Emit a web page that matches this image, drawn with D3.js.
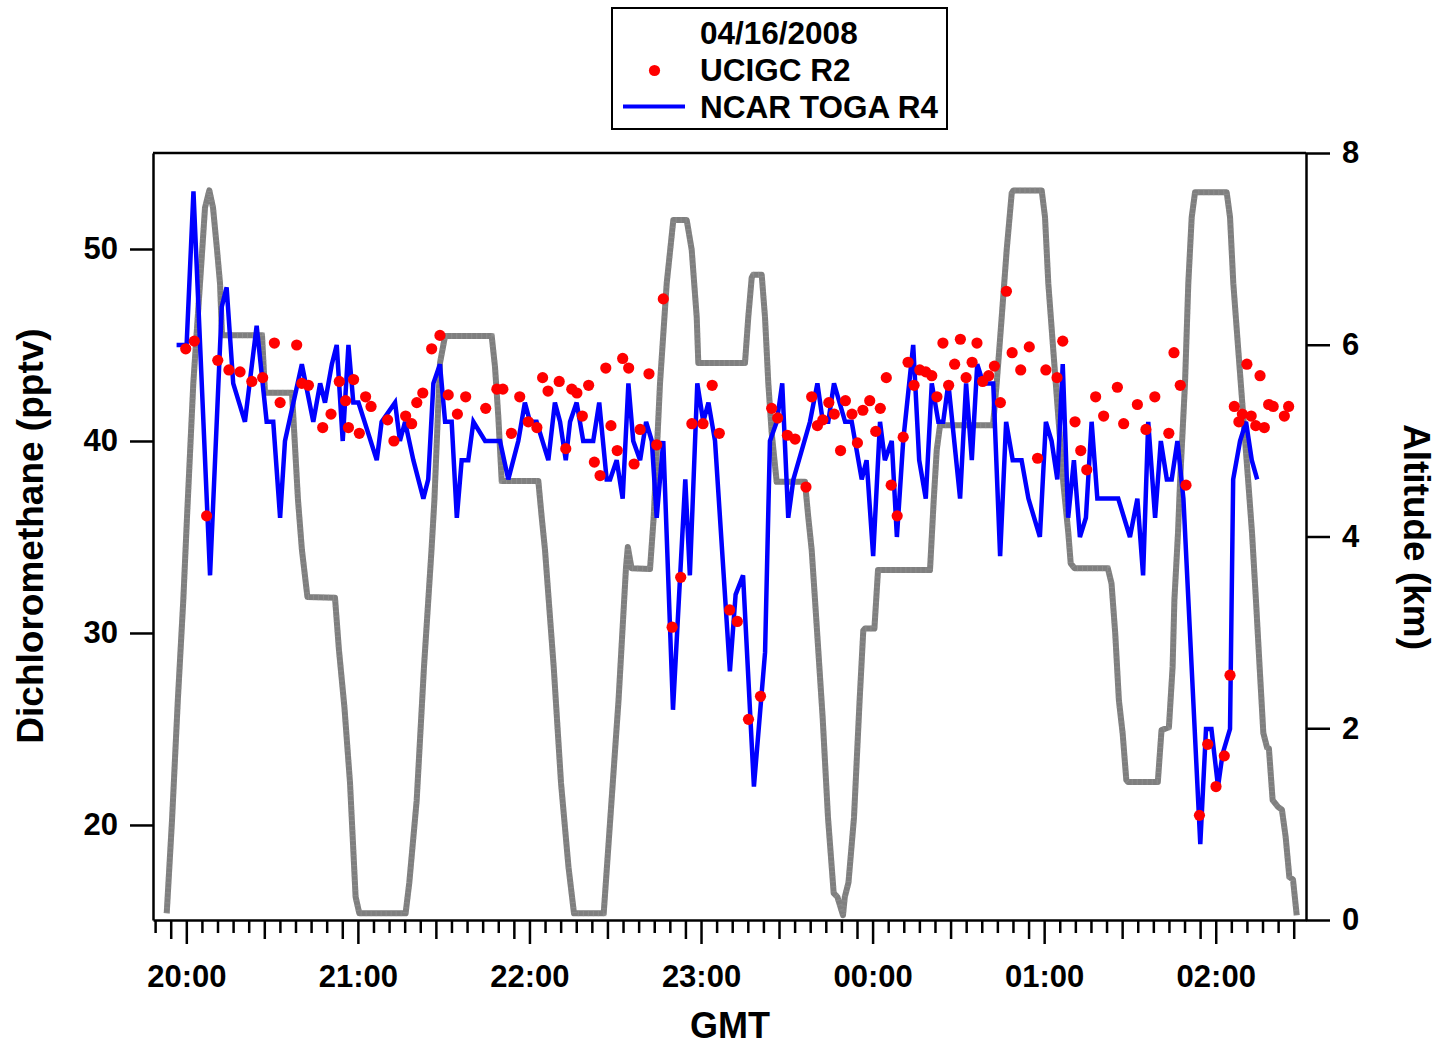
<!DOCTYPE html>
<html><head><meta charset="utf-8">
<script src="https://cdn.jsdelivr.net/npm/d3@7"></script>
<style>
body{margin:0;background:#fff;}
svg{display:block;font-family:"Liberation Sans",Arial,Helvetica,sans-serif;font-weight:bold;}
</style></head><body>
<svg id="chart" width="1441" height="1045"></svg>
<script>
// Times are minutes after 20:00 GMT, 04/16/2008
const togaMinutes = [-3.4,0.1,2.5,8.3,12.4,14.1,16.4,20.5,24.6,28.1,
 30.4,32.8,34.5,40.4,44.4,46.8,48.5,50.9,52.6,54.7,
 56.7,58.4,60.2,66.6,68.3,73.0,74.7,76.5,79.4,82.9,
 84.6,86.4,88.7,90.5,92.8,94.6,96.3,98.6,100.4,104.5,
 109.7,112.6,116.1,118.4,120.2,122.5,126.6,128.9,130.7,132.7,
 134.2,136.5,138.8,142.3,144.4,147.0,148.2,150.5,152.6,154.6,
 156.3,158.7,160.8,162.8,164.5,166.8,170.2,174.5,176.1,178.7,
 180.8,182.6,184.9,190.1,192.1,194.7,198.5,202.4,204.1,206.5,
 208.4,210.5,212.3,218.1,220.7,222.6,224.5,226.5,230.4,232.7,
 236.2,237.9,240.2,242.6,244.3,246.7,248.5,250.7,254.2,256.3,
 258.6,260.7,263.0,264.7,266.5,270.6,272.7,274.7,276.6,278.7,
 282.2,284.6,286.7,289.0,292.1,294.5,298.5,300.6,302.6,304.6,
 306.5,308.4,310.4,312.5,314.6,316.6,318.6,325.9,330.0,332.6,
 334.6,336.4,338.8,340.8,342.9,344.6,346.6,348.7,354.6,356.6,
 358.5,360.8,362.4,365.0,366.1,368.5,370.6,372.6,374.5];
const togaValues = [45,45,53,33,47,48,43,41,46,41,
 41,36,40,44,41,43,42,44,45,40,
 45,42,42,39,41,42,40,41,39,37,
 38,43,44,41,41,36,39,39,41,40,
 40,38,40,42,41,41,39,42,41,39,
 41,42,40,40,42,38,38,39,37,43,
 40,39,41,40,36,40,26,38,33,43,
 41,42,40,28,32,33,22,29,40,41,
 43,36,38,41,43,41,41,43,41,41,
 38,39,34,41,39,40,35,40,45,39,
 37,43,41,41,43,37,43,39,44,43,
 43,34,41,39,39,37,35,41,40,38,
 44,36,39,35,36,41,37,37,35,37,
 33,41,36,40,38,38,40,37,19,25,
 25,22,23.7,25,38,40,41,39,38];

const ucigcMinutes = [-0.2,2.8,7.1,11.0,14.9,18.8,22.9,26.7,30.8,32.8,
 38.6,40.4,42.7,47.7,50.6,53.5,55.7,56.7,58.5,60.5,
 62.7,64.6,70.4,72.6,76.7,78.8,80.6,82.7,85.8,88.7,91.6,
 94.8,97.7,104.7,108.6,110.7,113.7,116.6,119.6,122.6,124.6,126.5,
 130.4,132.7,134.8,136.6,138.5,140.7,142.7,144.7,146.7,148.5,
 150.7,152.6,154.7,156.6,158.7,161.8,164.5,166.8,169.9,172.9,
 176.8,180.7,183.9,186.4,190.0,192.7,196.6,200.8,
 204.7,206.8,210.2,212.9,216.7,218.7,220.7,222.6,224.7,226.6,
 228.8,230.5,232.8,234.7,236.6,239.0,241.1,242.7,244.8,246.5,
 248.6,250.7,252.4,254.5,256.5,258.6,260.7,262.5,264.6,266.6,
 268.7,270.7,272.7,274.8,276.5,278.5,280.6,282.6,284.7,286.8,
 288.8,291.8,294.8,
 297.7,300.6,304.5,306.5,310.8,312.8,314.9,318.0,320.8,325.6,
 327.8,332.6,335.6,338.7,343.6,345.4,347.6,349.6,354.3,357.2,
 360.1,363.0,365.0,366.5,368.1,369.3,370.9,372.4,374.0,375.5,
 377.0,378.5,380.1,384.0,385.5];
const ucigcValues = [44.8,45.2,36.1,44.2,43.7,43.6,43.1,43.3,45.1,42.0,
 45.0,43.0,42.9,40.7,41.4,43.1,42.1,40.7,43.2,40.4,
 42.3,41.8,41.1,40.0,41.3,40.9,42.0,42.5,44.8,45.5,42.4,
 41.4,42.3,41.7,42.7,42.7,40.4,42.3,41.0,40.7,43.3,42.6,
 43.1,39.6,42.7,42.5,41.3,42.9,38.9,38.2,43.8,40.8,
 39.5,44.3,43.8,38.8,40.6,43.5,39.8,47.4,30.3,32.9,
 40.9,40.9,42.9,40.4,31.2,30.6,25.5,26.7,
 41.7,41.2,40.3,40.1,37.6,42.3,40.8,41.1,42.0,41.4,
 39.5,42.1,41.4,39.9,41.6,42.1,40.5,41.7,43.3,37.7,
 36.1,40.2,44.1,42.9,43.7,43.6,43.4,42.3,45.1,42.9,
 44.0,45.3,43.3,44.1,45.1,43.1,43.4,43.9,42.0,47.8,
 44.6,43.7,44.9,
 39.1,43.7,43.3,45.2,41.0,39.5,38.5,42.3,41.3,42.8,
 40.9,41.9,40.6,42.3,40.4,44.6,42.9,37.7,20.5,24.2,
 22.0,23.6,27.8,41.8,41.0,41.4,44.0,41.3,40.8,43.4,
 40.7,41.9,41.8,41.3,41.8];

const altMinutes = [-6.85,-5.0,-2.97,-1.05,0.24,2.45,4.79,6.54,8.04,9.34,
 10.74,11.79,12.48,26.47,27.52,36.96,39.06,40.43,42.35,52.0,
 53.37,55.29,57.25,59.21,60.5,76.69,77.98,80.57,83.12,85.75,
 86.76,88.72,90.47,106.8,107.95,109.11,110.3,123.1,124.29,125.44,
 128.48,131.04,133.66,135.58,145.97,147.93,151.15,153.77,154.4,155.69,
 162.16,163.45,165.66,168.0,170.31,174.99,176.74,178.49,179.05,195.38,
 196.53,197.72,198.28,201.22,202.37,203.53,204.72,206.46,216.36,217.51,
 218.7,219.86,222.52,224.4,226.4,227.69,229.65,230.28,231.57,233.5,
 235.46,236.75,237.35,240.64,241.9,260.08,261.38,262.43,263.58,282.11,
 283.41,285.16,286.9,288.65,289.21,299.14,300.3,301.45,303.2,304.95,
 306.7,308.44,309.28,310.58,322.26,323.56,324.85,326.14,327.44,328.73,
 329.33,339.75,341.04,343.63,344.92,345.55,346.81,347.51,349.26,350.41,
 351.6,352.76,363.84,365.0,366.15,367.9,369.65,371.4,372.69,374.06,
 375.35,376.65,377.94,378.6,379.9,381.78,383.15,384.44,385.74,387.03,388.32];
const altKm = [0.07,1.04,2.29,3.34,4.2,5.6,6.64,7.43,7.61,7.43,
 6.99,6.64,6.1,6.1,5.5,5.5,4.38,3.86,3.37,3.36,
 2.82,2.22,1.43,0.24,0.07,0.07,0.39,1.25,2.64,3.86,
 4.38,5.81,6.09,6.09,5.77,5.25,4.58,4.58,4.2,3.86,
 2.64,1.43,0.55,0.07,0.07,0.91,2.29,3.68,3.89,3.67,
 3.66,4.2,5.6,6.64,7.3,7.3,6.99,6.29,5.81,5.81,
 6.29,6.7,6.73,6.73,6.29,5.6,5.08,4.57,4.57,4.2,
 3.86,3.34,2.12,1.07,0.28,0.24,0.05,0.24,0.39,1.07,
 2.29,3.02,3.04,3.04,3.65,3.65,4.38,4.9,5.16,5.16,
 5.6,6.29,6.99,7.58,7.61,7.61,7.33,6.64,5.94,5.25,
 4.56,4.04,3.72,3.67,3.67,3.51,2.99,2.29,1.95,1.46,
 1.44,1.44,1.98,2.01,2.64,3.34,4.04,4.56,5.6,6.64,
 7.33,7.59,7.59,7.33,6.64,5.94,5.25,4.56,4.04,3.34,
 2.64,1.95,1.8,1.79,1.25,1.18,1.15,0.87,0.45,0.42,0.05];

const hourLabels = ["20:00","21:00","22:00","23:00","00:00","01:00","02:00"];
const leftTicks = [20,30,40,50];
const rightTicks = [0,2,4,6,8];
const legendTitle = "04/16/2008";
const seriesNames = ["UCIGC R2","NCAR TOGA R4"];
const xTitle = "GMT", yLeftTitle = "Dichloromethane (pptv)", yRightTitle = "Altitude (km)";

const plot = {left:153, right:1306, top:153, bottom:920};
const t0 = Date.UTC(2008,3,16,20,0,0);
const toDate = m => new Date(t0 + m*60000);
const minStart = -11.65, minEnd = 391.57;

const x = d3.scaleUtc().domain([toDate(minStart), toDate(minEnd)]).range([plot.left, plot.right]);
const yL = d3.scaleLinear().domain([15.05,55]).range([plot.bottom, plot.top]);
const yR = d3.scaleLinear().domain([0,8]).range([plot.bottom, plot.top]);

const svg = d3.select("#chart");
const ink = "#000";

// data
const alt = altMinutes.map((m,i)=>({t:toDate(m), v:altKm[i]}));
const toga = togaMinutes.map((m,i)=>({t:toDate(m), v:togaValues[i]}));
const ucigc = ucigcMinutes.map((m,i)=>({t:toDate(m), v:ucigcValues[i]}));

const gData = svg.append("g");
gData.append("path").datum(alt)
  .attr("fill","none").attr("stroke","#7f7f7f").attr("stroke-width",6)
  .attr("stroke-linejoin","round")
  .attr("d", d3.line().x(d=>x(d.t)).y(d=>yR(d.v)));
gData.append("path").datum(alt)
  .attr("fill","none").attr("stroke","#9a9a9a").attr("stroke-width",6)
  .attr("stroke-dasharray","1 4").attr("stroke-opacity",0.5)
  .attr("d", d3.line().x(d=>x(d.t)).y(d=>yR(d.v)));
gData.append("path").datum(toga)
  .attr("fill","none").attr("stroke","#0000ff").attr("stroke-width",4.5)
  .attr("stroke-linejoin","miter").attr("stroke-miterlimit",4)
  .attr("d", d3.line().x(d=>x(d.t)).y(d=>yL(d.v)));
gData.selectAll("circle.u").data(ucigc).join("circle")
  .attr("class","u").attr("cx",d=>x(d.t)).attr("cy",d=>yL(d.v))
  .attr("r",5.6).attr("fill","#ff0000");

// x axis ticks
const midTicks = [], minorTicks = [];
for (let h=-1; h<7; h++) for (let k=1; k<=10; k++) {
  const m = h*60 + k*60/11;
  if (m >= minStart && m <= minEnd) (k%5===0 ? midTicks : minorTicks).push(toDate(m));
}
const majorTicks = hourLabels.map((_,i)=>toDate(i*60));

function styleAxis(g){
  g.selectAll("path.domain").attr("stroke",ink).attr("stroke-width",2.5);
  g.selectAll(".tick line").attr("stroke",ink).attr("stroke-width",2.5);
  g.selectAll("text").attr("fill",ink).attr("font-family","'Liberation Sans',Arial,sans-serif")
   .attr("font-weight","bold").attr("font-size",31);
}
const xg = svg.append("g").attr("transform",`translate(0,${plot.bottom})`);
xg.append("g").call(d3.axisBottom(x).tickValues(minorTicks).tickSize(13).tickSizeOuter(0).tickFormat(""))
  .call(styleAxis);
xg.append("g").call(d3.axisBottom(x).tickValues(midTicks).tickSize(19).tickSizeOuter(0).tickFormat(""))
  .call(g=>g.select(".domain").remove()).call(styleAxis);
xg.append("g").call(d3.axisBottom(x).tickValues(majorTicks).tickSize(24).tickSizeOuter(0)
    .tickFormat((d,i)=>hourLabels[i]))
  .call(g=>g.select(".domain").remove()).call(styleAxis)
  .call(g=>g.selectAll("text").attr("dy",null).attr("y",67));

// left axis
svg.append("g").attr("transform",`translate(${plot.left},0)`)
  .call(d3.axisLeft(yL).tickValues(leftTicks).tickSize(23).tickSizeOuter(0).tickPadding(12))
  .call(styleAxis);
// right axis
svg.append("g").attr("transform",`translate(${plot.right},0)`)
  .call(d3.axisRight(yR).tickValues(rightTicks).tickSize(24).tickSizeOuter(0).tickPadding(12))
  .call(styleAxis);
// top frame
svg.append("line").attr("x1",plot.left).attr("x2",plot.right).attr("y1",plot.top).attr("y2",plot.top)
  .attr("stroke",ink).attr("stroke-width",2.5);

// titles
svg.append("text").attr("x",730).attr("y",1038)
  .attr("text-anchor","middle").attr("font-size",36).text(xTitle);
svg.append("text").attr("transform","translate(43,536) rotate(-90)")
  .attr("text-anchor","middle").attr("font-size",37).text(yLeftTitle);
svg.append("text").attr("transform","translate(1404,537) rotate(90)")
  .attr("text-anchor","middle").attr("font-size",37).text(yRightTitle);

// legend
const lg = svg.append("g");
lg.append("rect").attr("x",612).attr("y",8).attr("width",335).attr("height",121)
  .attr("fill","#fff").attr("stroke",ink).attr("stroke-width",2);
lg.append("text").attr("x",700).attr("y",44).attr("font-size",31.5).text(legendTitle);
lg.append("circle").attr("cx",654.5).attr("cy",70.5).attr("r",5.6).attr("fill","#ff0000");
lg.append("text").attr("x",700).attr("y",81).attr("font-size",31.5).text(seriesNames[0]);
lg.append("line").attr("x1",623).attr("x2",685).attr("y1",106.5).attr("y2",106.5)
  .attr("stroke","#0000ff").attr("stroke-width",4);
lg.append("text").attr("x",700).attr("y",118).attr("font-size",31.5).text(seriesNames[1]);
</script>
</body></html>
